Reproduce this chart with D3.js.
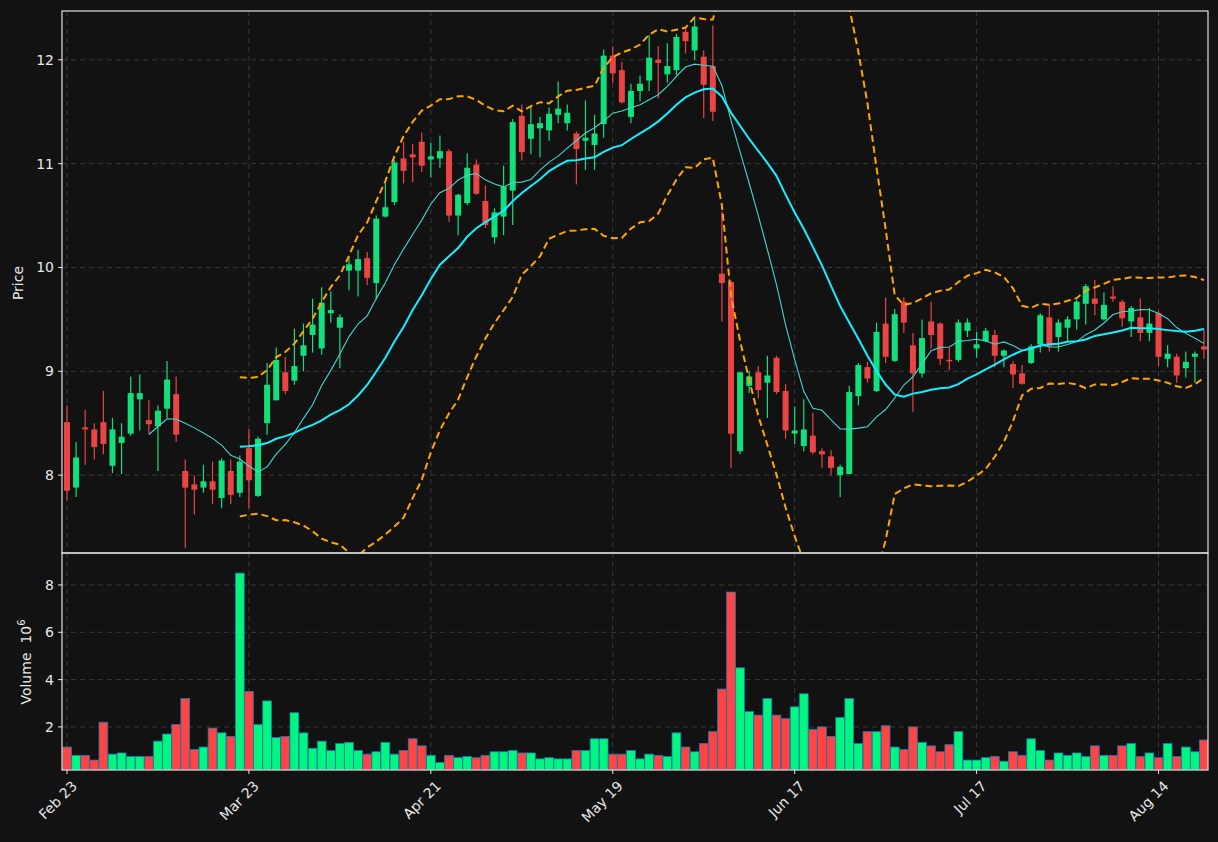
<!DOCTYPE html>
<html><head><meta charset="utf-8">
<script src="https://cdn.jsdelivr.net/npm/d3@7"></script>
<style>body{margin:0;background:#121212;}svg{display:block;font-family:"DejaVu Sans",sans-serif;}</style>
</head><body><svg id="c" width="1218" height="842"></svg>
<script>
const opens  = [8.51,7.88,8.46,8.44,8.51,8.09,8.31,8.40,8.73,8.53,8.47,8.64,8.78,8.04,7.91,7.88,7.94,7.78,8.04,7.83,
8.26,7.80,8.50,8.72,8.99,8.91,9.15,9.35,9.22,9.56,9.42,9.97,9.97,10.09,9.85,10.49,10.63,11.05,11.09,11.21,
11.04,11.05,11.12,10.50,10.62,10.99,10.64,10.29,10.49,10.74,11.46,11.24,11.34,11.32,11.47,11.39,11.29,11.22,11.18,11.38,
12.04,11.90,11.45,11.70,11.80,12.00,11.86,11.90,12.27,12.09,12.03,11.94,9.94,9.86,8.23,8.86,8.99,8.89,9.13,8.81,
8.40,8.28,8.38,8.23,8.18,8.00,8.01,8.76,9.04,8.81,9.46,9.10,9.67,9.25,8.98,9.48,9.46,9.11,9.11,9.39,
9.22,9.29,9.35,9.15,9.07,8.98,9.08,9.26,9.52,9.33,9.42,9.50,9.65,9.70,9.50,9.72,9.67,9.48,9.52,9.37,
9.56,9.12,9.14,9.03,9.14,9.24];
const closes = [7.85,8.17,8.44,8.27,8.30,8.44,8.37,8.79,8.79,8.49,8.62,8.92,8.39,7.88,7.86,7.94,7.86,8.14,7.81,8.13,
7.95,8.35,8.87,9.11,8.81,9.05,9.25,9.45,9.66,9.59,9.52,10.03,10.08,9.90,10.47,10.58,11.01,10.93,11.06,10.98,
11.07,11.12,10.50,10.70,10.96,10.71,10.41,10.53,10.78,11.40,11.11,11.38,11.39,11.48,11.53,11.49,11.14,11.25,11.29,12.04,
11.87,11.59,11.70,11.77,12.02,11.97,11.94,12.22,12.18,12.32,11.76,11.50,9.85,8.40,8.99,8.95,8.82,8.96,8.80,8.43,
8.43,8.44,8.22,8.20,8.07,8.08,8.80,9.06,8.93,9.38,9.14,9.55,9.47,8.98,9.32,9.35,9.12,9.10,9.47,9.47,
9.26,9.39,9.15,9.20,8.97,8.88,9.24,9.54,9.24,9.47,9.50,9.67,9.82,9.65,9.64,9.70,9.51,9.61,9.37,9.46,
9.14,9.17,8.96,9.09,9.17,9.21];
const highs  = [8.67,8.32,8.63,8.50,8.81,8.55,8.50,8.95,8.97,8.72,8.67,9.10,8.95,8.15,8.00,8.10,8.13,8.16,8.15,8.19,
8.44,8.37,9.08,9.23,9.14,9.41,9.46,9.70,9.81,9.77,9.55,10.10,10.17,10.15,10.50,10.81,11.03,11.21,11.19,11.30,
11.20,11.27,11.14,10.71,11.10,11.04,10.79,10.57,10.98,11.43,11.57,11.55,11.45,11.54,11.79,11.57,11.31,11.61,11.47,12.10,
12.13,11.98,11.77,11.85,12.24,12.13,12.16,12.25,12.31,12.40,12.09,12.33,10.54,9.87,8.99,9.00,9.05,9.15,9.15,8.88,
8.66,8.73,8.60,8.26,8.24,8.10,8.86,9.08,9.09,9.47,9.71,9.60,9.71,9.37,9.50,9.67,9.47,9.23,9.50,9.51,
9.38,9.42,9.40,9.21,9.10,9.06,9.26,9.56,9.64,9.50,9.53,9.69,9.84,9.88,9.76,9.82,9.69,9.63,9.70,9.61,
9.58,9.25,9.17,9.19,9.19,9.40];
const lows   = [7.76,7.79,8.10,8.15,8.20,8.02,8.01,8.38,8.43,8.40,8.04,8.55,8.32,7.30,7.62,7.83,7.72,7.68,7.72,7.79,
7.68,7.79,8.39,8.72,8.78,8.87,9.00,9.18,9.16,9.47,9.03,9.78,9.72,9.83,9.69,10.48,10.60,10.81,10.82,10.92,
10.87,10.96,10.44,10.31,10.60,10.70,10.38,10.23,10.31,10.41,11.03,11.09,11.06,11.22,11.39,11.32,10.80,10.94,10.94,11.25,
11.78,11.58,11.39,11.60,11.70,11.63,11.78,11.85,12.06,12.00,11.44,11.41,9.48,8.07,8.20,8.79,8.74,8.55,8.78,8.35,
8.30,8.23,8.20,8.07,8.00,7.79,8.01,8.67,8.89,8.80,9.08,9.09,9.37,8.61,8.94,9.22,9.06,9.01,9.09,9.33,
9.13,9.28,9.04,9.04,8.84,8.87,9.07,9.18,9.19,9.19,9.28,9.40,9.45,9.54,9.49,9.67,9.43,9.33,9.29,9.29,
9.05,9.04,8.89,8.94,8.89,9.12];
const volumes = [1.15,0.8,0.8,0.6,2.2,0.85,0.9,0.75,0.75,0.75,1.4,1.7,2.1,3.2,1.05,1.15,1.95,1.75,1.6,8.5,
3.5,2.1,3.1,1.55,1.6,2.6,1.75,1.1,1.4,1.0,1.3,1.35,1.0,0.85,0.95,1.35,0.85,1.0,1.5,1.2,
0.8,0.5,0.8,0.7,0.75,0.7,0.8,0.95,0.95,1.0,0.9,0.9,0.65,0.7,0.65,0.65,1.0,1.0,1.5,1.5,
0.85,0.85,1.0,0.65,0.85,0.8,0.75,1.75,1.15,0.95,1.3,1.8,3.6,7.7,4.5,2.65,2.5,3.2,2.5,2.35,
2.85,3.4,1.9,2.0,1.6,2.4,3.2,1.3,1.8,1.8,2.05,1.15,1.05,2.0,1.35,1.2,0.95,1.25,1.8,0.6,
0.6,0.7,0.75,0.55,0.95,0.8,1.5,1.0,0.6,0.9,0.8,0.9,0.75,1.2,0.8,0.8,1.2,1.3,0.75,0.9,
0.7,1.3,0.75,1.15,0.95,1.45];
const tickIndex = [0,20,40,60,80,100,120];
const tickLabels = ["Feb 23","Mar 23","Apr 21","May 19","Jun 17","Jul 17","Aug 14"];
const priceTicks = [8,9,10,11,12];
const volumeTicks = [2,4,6,8];

const svg = d3.select("#c");
const L=62,R=1208,PT=11,PB=553,VB=770;
const UP="#12e07c",DN="#ea4444",VUP="#00f77f",VDN="#ff4444";
svg.append("rect").attr("width",1218).attr("height",842).attr("fill","#121212");
const n=opens.length;
const x=d3.scaleLinear().domain([0,n-1]).range([67,1204]);
const yP=d3.scaleLinear().domain([7.25,12.47]).range([PB,PT]);
const yV=d3.scaleLinear().domain([0.18,9.35]).range([VB,PB]);
const defs=svg.append("defs");
defs.append("clipPath").attr("id","cp").append("rect").attr("x",L).attr("y",PT).attr("width",R-L).attr("height",PB-PT);
defs.append("clipPath").attr("id","cv").append("rect").attr("x",L).attr("y",PB).attr("width",R-L).attr("height",VB-PB);

const grid=svg.append("g").attr("stroke","#3a3a3a").attr("stroke-dasharray","5,4").attr("stroke-width",1);
tickIndex.forEach(i=>{grid.append("line").attr("x1",x(i)).attr("x2",x(i)).attr("y1",PT).attr("y2",PB);
  grid.append("line").attr("x1",x(i)).attr("x2",x(i)).attr("y1",PB).attr("y2",VB);});
priceTicks.forEach(v=>grid.append("line").attr("x1",L).attr("x2",R).attr("y1",yP(v)).attr("y2",yP(v)));
volumeTicks.forEach(v=>grid.append("line").attr("x1",L).attr("x2",R).attr("y1",yV(v)).attr("y2",yV(v)));

function sma(p){return closes.map((c,i)=>i<p-1?null:d3.mean(closes.slice(i-p+1,i+1)));}
function sd(p){return closes.map((c,i)=>i<p-1?null:d3.deviation(closes.slice(i-p+1,i+1))*Math.sqrt((p-1)/p));}
const m10=sma(10),m20=sma(20),s20=sd(20);
const up=m20.map((m,i)=>m==null?null:m+2*s20[i]),lo=m20.map((m,i)=>m==null?null:m-2*s20[i]);
const line=d3.line().defined(d=>d!=null).x((d,i)=>x(i)).y(d=>yP(d));
const pg=svg.append("g").attr("clip-path","url(#cp)");

const bw=6;
for(let i=0;i<n;i++){
  const c=closes[i]>=opens[i]?UP:DN;
  pg.append("line").attr("x1",x(i)).attr("x2",x(i)).attr("y1",yP(highs[i])).attr("y2",yP(lows[i])).attr("stroke",c).attr("stroke-width",1.2);
  const t=yP(Math.max(opens[i],closes[i])),b=yP(Math.min(opens[i],closes[i]));
  pg.append("rect").attr("x",x(i)-bw/2).attr("y",t).attr("width",bw).attr("height",Math.max(b-t,1.5)).attr("fill",c);
}
pg.append("path").attr("d",line(m10)).attr("fill","none").attr("stroke","#45d6cf").attr("stroke-width",1.1);
pg.append("path").attr("d",line(m20)).attr("fill","none").attr("stroke","#14f0ff").attr("stroke-width",2);
[up,lo].forEach(a=>pg.append("path").attr("d",line(a)).attr("fill","none").attr("stroke","#ffa500").attr("stroke-width",2).attr("stroke-dasharray","7,4"));

const vg=svg.append("g").attr("clip-path","url(#cv)");
for(let i=0;i<n;i++){
  const c=closes[i]>=opens[i]?VUP:VDN;
  vg.append("rect").attr("x",x(i)-4.4).attr("y",yV(volumes[i])).attr("width",8.8).attr("height",VB-yV(volumes[i]))
   .attr("fill",c).attr("stroke","#1f77b4").attr("stroke-width",0.8);
}

svg.append("rect").attr("x",L).attr("y",PT).attr("width",R-L).attr("height",PB-PT).attr("fill","none").attr("stroke","#e0e0e0").attr("stroke-width",1.2);
svg.append("rect").attr("x",L).attr("y",PB).attr("width",R-L).attr("height",VB-PB).attr("fill","none").attr("stroke","#e0e0e0").attr("stroke-width",1.2);

const txt="#e8e8e8";
const ax=svg.append("g").attr("fill",txt).attr("font-size",14);
priceTicks.forEach(v=>{ax.append("line").attr("x1",L-4).attr("x2",L).attr("y1",yP(v)).attr("y2",yP(v)).attr("stroke",txt);
  ax.append("text").attr("x",L-8).attr("y",yP(v)).attr("dy","0.35em").attr("text-anchor","end").text(v);});
volumeTicks.forEach(v=>{ax.append("line").attr("x1",L-4).attr("x2",L).attr("y1",yV(v)).attr("y2",yV(v)).attr("stroke",txt);
  ax.append("text").attr("x",L-8).attr("y",yV(v)).attr("dy","0.35em").attr("text-anchor","end").text(v);});
tickIndex.forEach((ti,k)=>{ax.append("line").attr("x1",x(ti)).attr("x2",x(ti)).attr("y1",VB).attr("y2",VB+4).attr("stroke",txt);
  ax.append("text").attr("transform",`translate(${x(ti)+4},${VB+10}) rotate(-45)`).attr("text-anchor","end").attr("dy","0.7em").text(tickLabels[k]);});
ax.append("text").attr("transform","translate(23,283) rotate(-90)").attr("text-anchor","middle").text("Price");
const vt=ax.append("text").attr("transform","translate(31,662) rotate(-90)").attr("text-anchor","middle").style("white-space","pre");
vt.append("tspan").text("Volume\u00a0\u00a010");
vt.append("tspan").attr("dy",-6).attr("font-size",10).text("6");
</script></body></html>
